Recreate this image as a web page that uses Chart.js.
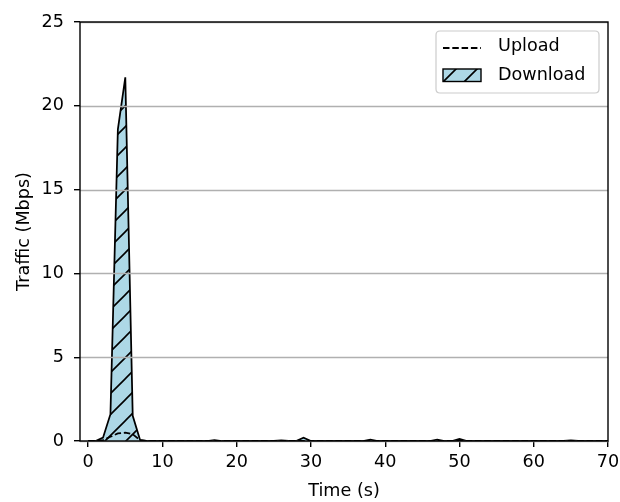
<!DOCTYPE html>
<html>
<head>
<meta charset="utf-8">
<title>Traffic</title>
<script src="https://cdn.jsdelivr.net/npm/chart.js@4/dist/chart.umd.min.js"></script>
<style>
  html, body { margin: 0; padding: 0; background: #fff; }
  #traffic { display: block; }
</style>
</head>
<body>
<canvas id="traffic" width="620" height="502"></canvas>
<script>
/* Traffic over time: upload line + hatched download area */
(function () {
    'use strict';

    // One sample per second.
    var seconds = [
        0, 1, 2, 3, 4, 5, 6, 7, 8, 9,
        10, 11, 12, 13, 14, 15, 16, 17, 18, 19,
        20, 21, 22, 23, 24, 25, 26, 27, 28, 29,
        30, 31, 32, 33, 34, 35, 36, 37, 38, 39,
        40, 41, 42, 43, 44, 45, 46, 47, 48, 49,
        50, 51, 52, 53, 54, 55, 56, 57, 58, 59,
        60, 61, 62, 63, 64, 65, 66, 67, 68, 69,
        70
    ];

    var downloadMbps = [
        0, 0, 0.2, 1.6, 18.6, 21.7, 1.5, 0.05, 0, 0,
        0, 0, 0, 0, 0, 0, 0, 0.05, 0, 0,
        0, 0, 0, 0, 0, 0, 0.04, 0, 0, 0.2,
        0, 0, 0, 0, 0, 0, 0, 0, 0.08, 0,
        0, 0, 0, 0, 0, 0, 0, 0.08, 0, 0,
        0.12, 0, 0, 0, 0, 0, 0, 0, 0, 0,
        0, 0, 0, 0, 0, 0.03, 0, 0, 0, 0,
        0
    ];

    var uploadMbps = [
        0, 0, 0.05, 0.25, 0.45, 0.5, 0.4, 0.05, 0, 0,
        0, 0, 0, 0, 0, 0, 0, 0, 0, 0,
        0, 0, 0, 0, 0, 0, 0, 0, 0, 0,
        0, 0, 0, 0, 0, 0, 0, 0, 0, 0,
        0, 0, 0, 0, 0, 0, 0, 0, 0, 0,
        0, 0, 0, 0, 0, 0, 0, 0, 0, 0,
        0, 0, 0, 0, 0, 0, 0, 0, 0, 0,
        0
    ];

    var xTicks = [0, 10, 20, 30, 40, 50, 60, 70];
    var yTicks = [0, 5, 10, 15, 20, 25];

    var FONT = 'DejaVu Sans';
    var FONT_SIZE = 17.6;
    var LW = 1.76;      // 1pt
    var THIN = 1.4;     // 0.8pt

    var canvas = document.getElementById('traffic');
    var ctx = canvas.getContext('2d');

    // Light blue fill with "/" hatching.
    function hatchPattern() {
        var size = 21;
        var c = document.createElement('canvas');
        c.width = size;
        c.height = size;
        var g = c.getContext('2d');
        g.fillStyle = '#add8e6';
        g.fillRect(0, 0, size, size);
        g.strokeStyle = '#000';
        g.lineWidth = 1.6;
        g.beginPath();
        g.moveTo(-2, size + 2); g.lineTo(size + 2, -2);
        g.moveTo(-2, 2); g.lineTo(2, -2);
        g.moveTo(size - 2, size + 2); g.lineTo(size + 2, size - 2);
        g.stroke();
        return ctx.createPattern(c, 'repeat');
    }
    var hatch = hatchPattern();

    function points(values) {
        return seconds.map(function (t, i) { return { x: t, y: values[i] }; });
    }

    // Horizontal grid goes above the filled area but under the upload line.
    var yGrid = {
        id: 'yGrid',
        beforeDatasetDraw: function (chart, args) {
            if (args.index !== 0) return;
            var a = chart.chartArea, y = chart.scales.y, c = chart.ctx;
            c.save();
            c.strokeStyle = '#b0b0b0';
            c.lineWidth = THIN;
            yTicks.forEach(function (v) {
                var py = Math.round(y.getPixelForValue(v)) + 0.5;
                c.beginPath();
                c.moveTo(a.left, py);
                c.lineTo(a.right, py);
                c.stroke();
            });
            c.restore();
        }
    };

    // Box around the plot area.
    var frame = {
        id: 'frame',
        afterDatasetsDraw: function (chart) {
            var a = chart.chartArea, c = chart.ctx;
            c.save();
            c.strokeStyle = '#000';
            c.lineWidth = THIN;
            c.strokeRect(a.left, a.top, a.right - a.left, a.bottom - a.top);
            c.restore();
        }
    };

    function roundRect(c, x, y, w, h, r) {
        c.beginPath();
        c.moveTo(x + r, y);
        c.lineTo(x + w - r, y);
        c.quadraticCurveTo(x + w, y, x + w, y + r);
        c.lineTo(x + w, y + h - r);
        c.quadraticCurveTo(x + w, y + h, x + w - r, y + h);
        c.lineTo(x + r, y + h);
        c.quadraticCurveTo(x, y + h, x, y + h - r);
        c.lineTo(x, y + r);
        c.quadraticCurveTo(x, y, x + r, y);
        c.closePath();
    }

    // Legend in the upper right corner of the plot.
    var cornerLegend = {
        id: 'cornerLegend',
        afterDraw: function (chart) {
            var c = chart.ctx;
            var ds = chart.data.datasets;
            var a = chart.chartArea;
            var right = a.right - 9, top = a.top + 9;
            var w = 163, h = 62;
            var left = right - w;
            c.save();
            roundRect(c, left, top, w, h, 4);
            c.fillStyle = 'rgba(255,255,255,0.8)';
            c.fill();
            c.strokeStyle = '#cccccc';
            c.lineWidth = 1.2;
            c.stroke();

            var hx = left + 7, hw = 38, tx = left + 62;

            // Upload: dashed line.
            c.strokeStyle = '#000';
            c.lineWidth = LW;
            c.setLineDash([6.5, 2.8]);
            c.beginPath();
            c.moveTo(hx, top + 17);
            c.lineTo(hx + hw, top + 17);
            c.stroke();
            c.setLineDash([]);

            // Download: hatched patch.
            c.fillStyle = hatch;
            c.fillRect(hx, top + 38, hw, 12.5);
            c.strokeStyle = '#000';
            c.lineWidth = LW * 0.8;
            c.strokeRect(hx, top + 38, hw, 12.5);

            c.fillStyle = '#000';
            c.font = FONT_SIZE + 'px "' + FONT + '"';
            c.textAlign = 'left';
            c.textBaseline = 'alphabetic';
            c.fillText(ds[0].label, tx, top + 20);
            c.fillText(ds[1].label, tx, top + 49);
            c.restore();
        }
    };

    Chart.defaults.font.family = FONT;
    Chart.defaults.font.size = FONT_SIZE;
    Chart.defaults.color = '#000';

    new Chart(canvas, {
        type: 'line',
        data: {
            datasets: [
                {
                    label:       'Upload',
                    data:        points(uploadMbps),
                    borderColor: '#000',
                    borderWidth: LW,
                    borderDash:  [6.5, 2.8],
                    pointRadius: 0,
                    fill:        false,
                    tension:     0
                },
                {
                    label:           'Download',
                    data:            points(downloadMbps),
                    borderColor:     '#000',
                    borderWidth:     LW,
                    backgroundColor: hatch,
                    pointRadius:     0,
                    fill:            'origin',
                    tension:         0
                }
            ]
        },
        options: {
            responsive: false,
            animation: false,
            devicePixelRatio: 1,
            layout: { padding: { top: 22, right: 12, left: 0, bottom: 0 } },
            plugins: {
                legend:  { display: false },
                tooltip: { enabled: false }
            },
            scales: {
                x: {
                    type: 'linear',
                    min: -1.1,
                    max: 70,
                    afterBuildTicks: function (s) {
                        s.ticks = xTicks.map(function (v) { return { value: v }; });
                    },
                    afterFit: function (s) {
                        s.height = 61;
                        s.paddingLeft = 0;
                        s.paddingRight = 0;
                    },
                    grid: { drawOnChartArea: false, tickLength: 6, tickColor: '#000', lineWidth: THIN },
                    border: { display: false },
                    ticks: { padding: 5, color: '#000', maxRotation: 0 },
                    title: {
                        display: true,
                        text: 'Time (s)',
                        color: '#000',
                        padding: { top: 0, bottom: 0 }
                    }
                },
                y: {
                    min: 0,
                    max: 25,
                    afterBuildTicks: function (s) {
                        s.ticks = yTicks.map(function (v) { return { value: v }; });
                    },
                    afterFit: function (s) { s.width = 80; },
                    grid: { drawOnChartArea: false, tickLength: 6, tickColor: '#000', lineWidth: THIN },
                    border: { display: false },
                    ticks: { padding: 10, color: '#000' },
                    title: {
                        display: true,
                        text: 'Traffic (Mbps)',
                        color: '#000',
                        padding: { top: 14, bottom: 0 }
                    }
                }
            }
        },
        plugins: [yGrid, frame, cornerLegend]
    });
}());
</script>
</body>
</html>
